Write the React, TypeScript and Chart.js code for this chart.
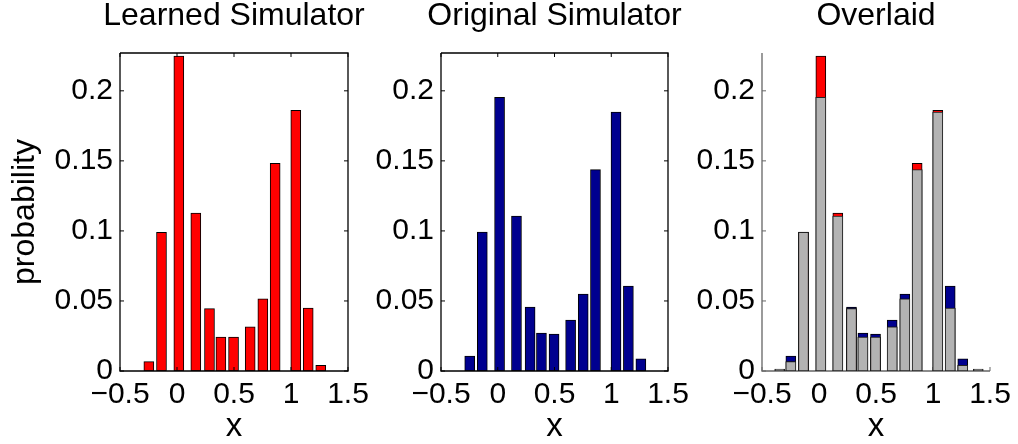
import React, { useEffect, useRef } from 'react';
import { Chart, registerables } from 'chart.js';

Chart.register(...registerables);

// ---- data ----
const binCenters = [-0.345, -0.247, -0.136, 0.016, 0.165, 0.285, 0.385, 0.496, 0.642, 0.753, 0.861, 1.042, 1.151, 1.261, 1.397];
const learnedProb = [0, 0.0067, 0.0989, 0.2248, 0.1127, 0.0445, 0.0243, 0.0243, 0.0316, 0.0516, 0.1482, 0.186, 0.045, 0.004, 0];
const originalProb = [0, 0.0107, 0.0992, 0.1953, 0.1106, 0.0457, 0.0271, 0.0264, 0.0364, 0.0549, 0.1437, 0.1848, 0.0606, 0.0086, 0];
const xTickValues = [-0.5, 0, 0.5, 1, 1.5];
const xTickLabels = ['\u22120.5', '0', '0.5', '1', '1.5'];
const yTickValues = [0, 0.05, 0.1, 0.15, 0.2];
const yTickLabels = ['0', '0.05', '0.1', '0.15', '0.2'];
const panelTitles = ['Learned Simulator', 'Original Simulator', 'Overlaid'];
const xAxisTitle = 'x';
const yAxisTitle = 'probability';

const X_MIN = -0.5;
const X_MAX = 1.5;
const Y_MIN = 0;
const Y_MAX = 0.227;

// ---- layout / style ----
const W = 1018;
const H = 444;
const BOTTOM = 371;
const FONT = '"Liberation Sans", Arial, Helvetica, sans-serif';
const RED = '#ff0000';
const BLUE = '#00008f';
const GRAY = '#b3b3b3';

type PanelLayout = { left: number; right: number; yWidth: number; boxed: boolean; yTitle: boolean; axisColor: string };
const panelLayouts: PanelLayout[] = [
  { left: 120, right: 348, yWidth: 120, boxed: true, yTitle: true, axisColor: '#000' },
  { left: 441, right: 668, yWidth: 72, boxed: true, yTitle: false, axisColor: '#000' },
  { left: 762, right: 990, yWidth: 72, boxed: false, yTitle: false, axisColor: '#666' },
];

const makeFramePlugin = (boxed: boolean, color: string) => {
  const draw = (chart: any) => {
    const { ctx, chartArea, scales } = chart;
    const { left, right, top, bottom } = chartArea;
    const x = scales.x;
    const y = scales.y;
    ctx.save();
    ctx.strokeStyle = color;
    ctx.lineWidth = 1.3;
    ctx.beginPath();
    ctx.moveTo(left, top);
    ctx.lineTo(left, bottom);
    ctx.lineTo(right, bottom);
    if (boxed) {
      ctx.lineTo(right, top);
      ctx.lineTo(left, top);
    }
    ctx.stroke();
    const TL = 4;
    ctx.lineWidth = 1;
    ctx.beginPath();
    xTickValues.forEach((v) => {
      const px = x.getPixelForValue(v);
      ctx.moveTo(px, bottom);
      ctx.lineTo(px, bottom - TL);
      if (boxed) {
        ctx.moveTo(px, top);
        ctx.lineTo(px, top + TL);
      }
    });
    yTickValues.forEach((v) => {
      const py = y.getPixelForValue(v);
      ctx.moveTo(left, py);
      ctx.lineTo(left + TL, py);
      if (boxed) {
        ctx.moveTo(right, py);
        ctx.lineTo(right - TL, py);
      }
    });
    ctx.stroke();
    ctx.restore();
  };
  return boxed
    ? { id: 'axisFrame', afterDatasetsDraw: draw }
    : { id: 'axisFrame', beforeDatasetsDraw: draw };
};

const pts = (vals: number[]) => binCenters.map((x, i) => ({ x, y: vals[i] }));

function buildDatasets(panel: number): any[] {
  const common = { barThickness: 10, borderWidth: 1, borderSkipped: false, grouped: false, yAxisID: 'y', xAxisID: 'x' };
  if (panel === 0) {
    return [{ ...common, data: pts(learnedProb), backgroundColor: RED, borderColor: '#000' }];
  }
  if (panel === 1) {
    return [{ ...common, data: pts(originalProb), backgroundColor: BLUE, borderColor: '#000' }];
  }
  const overlap = learnedProb.map((v, i) => Math.min(v, originalProb[i]));
  return [
    { ...common, data: pts(overlap), backgroundColor: GRAY, borderColor: '#222', minBarLength: 2 },
    { ...common, data: pts(learnedProb), backgroundColor: RED, borderColor: '#000' },
    { ...common, data: pts(originalProb), backgroundColor: BLUE, borderColor: '#000' },
  ];
}

function Panel({ index }: { index: number }) {
  const ref = useRef<HTMLCanvasElement | null>(null);
  const L = panelLayouts[index];
  // canvas wide enough to hold the plot plus a balancing box of the y-axis width on its right
  const CW = Math.max(W, L.right + L.yWidth);
  useEffect(() => {
    const canvas = ref.current;
    if (!canvas) return;
    const padLeft = L.left - L.yWidth;
    const padRight = CW - (L.right + L.yWidth);
    const chart = new Chart(canvas, {
      type: 'bar',
      data: { datasets: buildDatasets(index) },
      options: {
        animation: false,
        responsive: false,
        maintainAspectRatio: false,
        events: [],
        layout: {
          autoPadding: false,
          padding: { left: padLeft, right: padRight, top: 0, bottom: 0 },
        },
        plugins: {
          legend: { display: false },
          tooltip: { enabled: false },
          title: {
            display: true,
            text: panelTitles[index],
            fullSize: true,
            color: '#000',
            font: { family: FONT, size: 32, weight: 'normal', lineHeight: 1 },
            padding: { top: 0, bottom: 21 },
          },
        },
        scales: {
          x: {
            type: 'linear',
            position: 'bottom',
            min: X_MIN,
            max: X_MAX,
            offset: false,
            grid: { display: false, drawTicks: false },
            border: { display: false },
            afterBuildTicks: (s: any) => {
              s.ticks = xTickValues.map((v) => ({ value: v }));
            },
            afterFit: (s: any) => {
              s.height = H - BOTTOM;
            },
            ticks: {
              autoSkip: false,
              maxRotation: 0,
              padding: 6,
              color: '#000',
              font: { family: FONT, size: 30, lineHeight: 1.2 },
              callback: (v: any) => xTickLabels[xTickValues.indexOf(Number(v))],
            },
            title: {
              display: true,
              text: xAxisTitle,
              color: '#000',
              font: { family: FONT, size: 33, lineHeight: 1 },
              padding: { top: 0, bottom: 1 },
            },
          },
          y: {
            type: 'linear',
            position: 'left',
            min: Y_MIN,
            max: Y_MAX,
            grid: { display: false, drawTicks: false },
            border: { display: false },
            afterBuildTicks: (s: any) => {
              s.ticks = yTickValues.map((v) => ({ value: v }));
            },
            afterFit: (s: any) => {
              s.width = L.yWidth;
            },
            ticks: {
              autoSkip: false,
              padding: 7,
              color: '#000',
              font: { family: FONT, size: 30, lineHeight: 1.2 },
              callback: (v: any) => yTickLabels[yTickValues.indexOf(Number(v))],
            },
            title: {
              display: L.yTitle,
              text: yAxisTitle,
              color: '#000',
              font: { family: FONT, size: 32, lineHeight: 1 },
              padding: { top: 9, bottom: 0 },
            },
          },
          // empty balancing box on the right so the full-width title is centred over the plot
          yBalance: {
            type: 'linear',
            position: 'right',
            min: Y_MIN,
            max: Y_MAX,
            grid: { display: false, drawTicks: false },
            border: { display: false },
            ticks: { display: false },
            afterFit: (s: any) => {
              s.width = L.yWidth;
            },
          },
        },
      } as any,
      plugins: [makeFramePlugin(L.boxed, L.axisColor)],
    });
    return () => chart.destroy();
  }, [index]);
  return (
    <canvas
      ref={ref}
      width={CW}
      height={H}
      style={{ position: 'absolute', left: 0, top: 0, width: CW, height: H }}
    />
  );
}

export default function App() {
  return (
    <div style={{ position: 'absolute', left: 0, top: 0, width: W, height: H, overflow: 'hidden', background: '#fff' }}>
      {panelTitles.map((_, i) => (
        <Panel key={i} index={i} />
      ))}
    </div>
  );
}
